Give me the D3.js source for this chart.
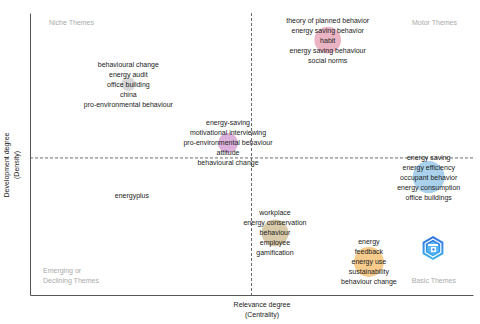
<!DOCTYPE html>
<html><head><meta charset="utf-8">
<script src="https://cdn.jsdelivr.net/npm/d3@7"></script>
<style>body{margin:0;background:#fff}svg{display:block}text{font-family:"Liberation Sans",Arial,Helvetica,sans-serif}</style>
</head><body><svg id="c" width="480" height="324"></svg>
<script>
// Theme clusters (strategic diagram)
const themeNames = ["gray","purple","pink","blue","tan","orange","energyplus"];
const centrality = [0.222, 0.447, 0.672, 0.900, 0.553, 0.765, 0.230];
const density    = [0.748, 0.539, 0.904, 0.418, 0.220, 0.117, 0.351];
const clusterSize = [4.8, 9.8, 17.5, 25, 17.5, 22, 0];
const clusterColors = ["#d7d7d7","#dcb2dd","#ebb4c4","#a9d1ec","#d9caa9","#f6cb8c","none"];
const clusterLabels = [
  ["behavioural change","energy audit","office building","china","pro-environmental behaviour"],
  ["energy-saving","motivational interviewing","pro-environmental behaviour","attitude","behavioural change"],
  ["theory of planned behavior","energy saving behavior","habit","energy saving behaviour","social norms"],
  ["energy saving","energy efficiency","occupant behavior","energy consumption","office buildings"],
  ["workplace","energy conservation","behaviour","employee","gamification"],
  ["energy","feedback","energy use","sustainability","behaviour change"],
  ["energyplus"]
];
const centralityMedian = 0.5;
const densityMedian = 0.486;
const quadrantNames = ["Niche Themes","Motor Themes","Emerging or\nDeclining Themes","Basic Themes"];
const xTitle = ["Relevance degree","(Centrality)"];
const yTitle = ["Development degree","(Density)"];

const svg = d3.select("#c");
const L = 30, R = 473, T = 13, B = 295;
const x = d3.scaleLinear().domain([0,1]).range([L,R]);
const y = d3.scaleLinear().domain([0,1]).range([B,T]);
const rs = d3.scaleSqrt().domain([0,25]).range([0,16]);

// bubbles
const data = themeNames.map((n,i)=>({n, cx:centrality[i], cy:density[i], s:clusterSize[i], c:clusterColors[i], lab:clusterLabels[i]}));
svg.append("g").selectAll("circle").data(data.filter(d=>d.s>0)).join("circle")
  .attr("cx",d=>x(d.cx)).attr("cy",d=>y(d.cy)).attr("r",d=>rs(d.s))
  .attr("fill",d=>d.c);

// median lines
svg.append("line").attr("x1",x(centralityMedian)).attr("x2",x(centralityMedian)).attr("y1",T).attr("y2",B)
  .attr("stroke","#444").attr("stroke-width",0.8).attr("stroke-dasharray","3,2");
svg.append("line").attr("x1",L).attr("x2",R).attr("y1",y(densityMedian)).attr("y2",y(densityMedian))
  .attr("stroke","#444").attr("stroke-width",0.8).attr("stroke-dasharray","3,2");

// axes (no ticks)
const xAxis = d3.axisBottom(x).tickValues([]).tickSizeOuter(0);
const yAxis = d3.axisLeft(y).tickValues([]).tickSizeOuter(0);
svg.append("g").attr("transform",`translate(0,${B})`).call(xAxis).select(".domain").attr("stroke","#555").attr("stroke-width",1);
svg.append("g").attr("transform",`translate(${L},0)`).call(yAxis).select(".domain").attr("stroke","#555").attr("stroke-width",1);

// labels
const lh = 10;
const lg = svg.append("g").attr("font-size",7).attr("fill","#222").attr("text-anchor","middle");
data.forEach(d=>{
  const n = d.lab.length, mid = (n-1)/2;
  d.lab.forEach((t,j)=>{
    lg.append("text").attr("x",x(d.cx)).attr("y",y(d.cy)+(j-mid)*lh).attr("dy","0.35em").text(t);
  });
});

// quadrant labels
const qg = svg.append("g").attr("font-size",7).attr("fill","#aaa");
qg.append("text").attr("x",49).attr("y",25).text(quadrantNames[0]);
qg.append("text").attr("x",457).attr("y",25).attr("text-anchor","end").text(quadrantNames[1]);
quadrantNames[2].split("\n").forEach((t,j)=>qg.append("text").attr("x",43).attr("y",273+j*10).text(t));
qg.append("text").attr("x",456).attr("y",283).attr("text-anchor","end").text(quadrantNames[3]);

// axis titles
const tg = svg.append("g").attr("font-size",7).attr("fill","#222").attr("text-anchor","middle");
xTitle.forEach((t,j)=>tg.append("text").attr("x",262).attr("y",307+j*10).text(t));
yTitle.forEach((t,j)=>tg.append("text").attr("transform",`translate(${9+j*10},165) rotate(-90)`).text(t));

// logo
const defs = svg.append("defs");
const gr = defs.append("linearGradient").attr("id","lg").attr("x1",0).attr("y1",0).attr("x2",0).attr("y2",1);
gr.append("stop").attr("offset",0).attr("stop-color","#2f6fe0");
gr.append("stop").attr("offset",1).attr("stop-color","#3fb4f0");
const hex = (cx,cy,r)=>d3.range(6).map(k=>{const a=Math.PI/3*k-Math.PI/2;return [cx+r*Math.cos(a),cy+r*Math.sin(a)];});
const lgG = svg.append("g");
lgG.append("path").attr("d","M"+hex(433,248,12).join("L")+"Z").attr("fill","url(#lg)");
lgG.append("path").attr("d","M"+hex(433,248,9).join("L")+"Z").attr("fill","none").attr("stroke","#fff").attr("stroke-width",1.2);
lgG.append("path").attr("d","M"+hex(433,248,6.5).join("L")+"Z").attr("fill","#5ab8f5");
lgG.append("rect").attr("x",428).attr("y",244).attr("width",10).attr("height",2).attr("fill","#fff");
lgG.append("rect").attr("x",431).attr("y",247).attr("width",5).attr("height",5).attr("fill","#fff");
lgG.append("rect").attr("x",432.5).attr("y",248.5).attr("width",2).attr("height",2).attr("fill","#2f6fe0");
</script></body></html>
